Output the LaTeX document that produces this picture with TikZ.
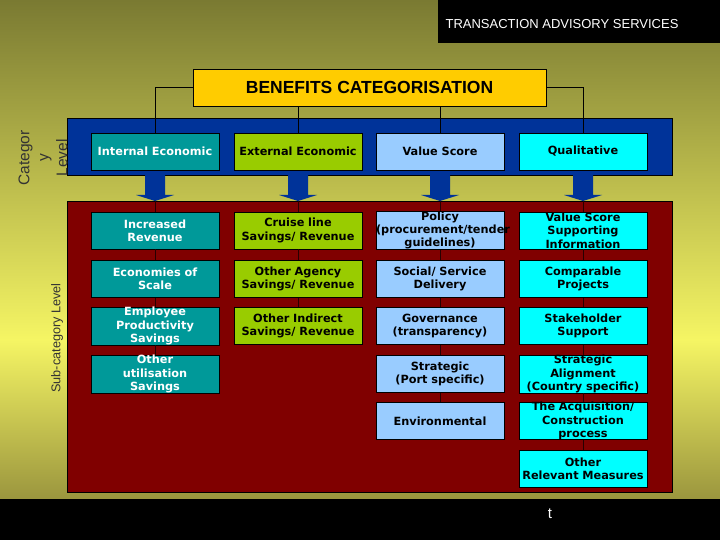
\documentclass[tikz,border=0pt]{standalone}
\usepackage{fontspec}
\setmainfont{Liberation Sans}
\newfontfamily\boxfont{DejaVu Sans}
\usepackage{tikz}
\usetikzlibrary{arrows.meta}

\definecolor{olivetop}{RGB}{122,122,50}
\definecolor{yellowmid}{RGB}{245,245,100}
\definecolor{olivebot}{RGB}{155,150,62}
\definecolor{bandblue}{RGB}{0,51,153}
\definecolor{bandred}{RGB}{128,0,0}
\definecolor{gold}{RGB}{255,204,0}
\definecolor{tealbox}{RGB}{0,153,153}
\definecolor{limebox}{RGB}{153,204,0}
\definecolor{skybox}{RGB}{153,204,255}
\definecolor{cyanbox}{RGB}{0,255,255}

\tikzset{
    catbox/.style={draw=black, line width=0.8pt, minimum width=128pt, minimum height=37pt,
        text width=128pt, inner xsep=0pt, inner ysep=0pt, align=center,
        font=\boxfont\bfseries\fontsize{11.3}{13.4}\selectfont},
    intbox/.style={catbox, fill=tealbox, text=white},
    extbox/.style={catbox, fill=limebox},
    valbox/.style={catbox, fill=skybox},
    qualbox/.style={catbox, fill=cyanbox},
}

\begin{document}
\begin{tikzpicture}[x=1pt, y=-1pt]
        \useasboundingbox (0,0) rectangle (720,540);

        %背景
        \shade[top color=olivetop, bottom color=yellowmid] (0,0) rectangle (720,340);
        \shade[top color=yellowmid, bottom color=olivebot] (0,340) rectangle (720,499);
        \fill[black] (0,499) rectangle (720,540); %下の帯
        \fill[black] (438,0) rectangle (720,43); %右上の帯
        \node[text=white, font=\fontsize{13}{15}\selectfont] (service) at (562,24) {TRANSACTION ADVISORY SERVICES};

        %上の箱
        \node[draw=black, fill=gold, minimum width=353pt, minimum height=37pt,
            font=\bfseries\fontsize{17.5}{20}\selectfont] (benefits) at (369.5,87.5) {BENEFITS CATEGORISATION};

        %帯
        \draw[fill=bandblue] (67,118) rectangle (672,175);
        \draw[fill=bandred] (67,201) rectangle (672,492);

        %矢印
        \foreach \x/\n in {155/a, 298/b, 440/c, 583/d}{
            \fill[bandblue] (\x-10,175) -- (\x+10,175) -- (\x+10,195) -- (\x+19,195)
                -- (\x,201) -- (\x-19,195) -- (\x-10,195) -- cycle;
            \coordinate (tip\n) at (\x,201);
        }

        %カテゴリー
        \node[intbox] (int) at (155,151.5) {Internal Economic};
        \node[extbox] (ext) at (298,151.5) {External Economic};
        \node[valbox] (val) at (440,151.5) {Value Score};
        \node[qualbox] (qual) at (583,151.5) {Qualitative};

        %サブカテゴリー
        \node[intbox] (inc) at (155,230.5) {Increased\\Revenue};
        \node[intbox] (eco) at (155,279) {Economies of\\Scale};
        \node[intbox] (emp) at (155,326) {Employee\\Productivity\\Savings};
        \node[intbox] (oth) at (155,374) {Other\\utilisation\\Savings};

        \node[extbox] (cru) at (298,230.5) {Cruise line\\Savings/ Revenue};
        \node[extbox] (agy) at (298,279) {Other Agency\\Savings/ Revenue};
        \node[extbox] (ind) at (298,326) {Other Indirect\\Savings/ Revenue};

        \node[valbox] (pol) at (440,230.5) {Policy\\(procurement/tender\\guidelines)};
        \node[valbox] (soc) at (440,279) {Social/ Service\\Delivery};
        \node[valbox] (gov) at (440,326) {Governance\\(transparency)};
        \node[valbox] (str) at (440,374) {Strategic\\(Port specific)};
        \node[valbox] (env) at (440,421) {Environmental};

        \node[qualbox] (vss) at (583,230.5) {Value Score\\Supporting\\Information};
        \node[qualbox] (cmp) at (583,279) {Comparable\\Projects};
        \node[qualbox] (stk) at (583,326) {Stakeholder\\Support};
        \node[qualbox] (aln) at (583,374) {Strategic\\Alignment\\(Country specific)};
        \node[qualbox] (acq) at (583,421) {The Acquisition/\\Construction\\process};
        \node[qualbox] (rel) at (583,469) {Other\\Relevant Measures};

        %線
        \draw (benefits.west) -| (int.north);
        \draw (benefits.east) -| (qual.north);
        \draw (benefits.south -| ext.north) -- (ext.north);
        \draw (benefits.south -| val.north) -- (val.north);

        \draw[black!70!bandred] (tipa) -- (inc); \draw[black!70!bandred] (inc) -- (eco);
        \draw[black!70!bandred] (eco) -- (emp); \draw[black!70!bandred] (emp) -- (oth);
        \draw[black!70!bandred] (tipb) -- (cru); \draw[black!70!bandred] (cru) -- (agy);
        \draw[black!70!bandred] (agy) -- (ind);
        \draw[black!70!bandred] (tipc) -- (pol); \draw[black!70!bandred] (pol) -- (soc);
        \draw[black!70!bandred] (soc) -- (gov); \draw[black!70!bandred] (gov) -- (str);
        \draw[black!70!bandred] (str) -- (env);
        \draw[black!70!bandred] (tipd) -- (vss); \draw[black!70!bandred] (vss) -- (cmp);
        \draw[black!70!bandred] (cmp) -- (stk); \draw[black!70!bandred] (stk) -- (aln);
        \draw[black!70!bandred] (aln) -- (acq); \draw[black!70!bandred] (acq) -- (rel);

        %左のラベル
        \node[rotate=90, align=center, text=black!80, font=\fontsize{15.5}{19}\selectfont] (catlevel) at (43,158) {Categor\\y\\Level};
        \node[rotate=90, text=black!80, font=\fontsize{12.7}{15}\selectfont] (sublevel) at (57,338) {Sub-category Level};

        \node[text=white, font=\fontsize{15}{17}\selectfont] (mark) at (550,514) {t};
    \end{tikzpicture}
\end{document}
